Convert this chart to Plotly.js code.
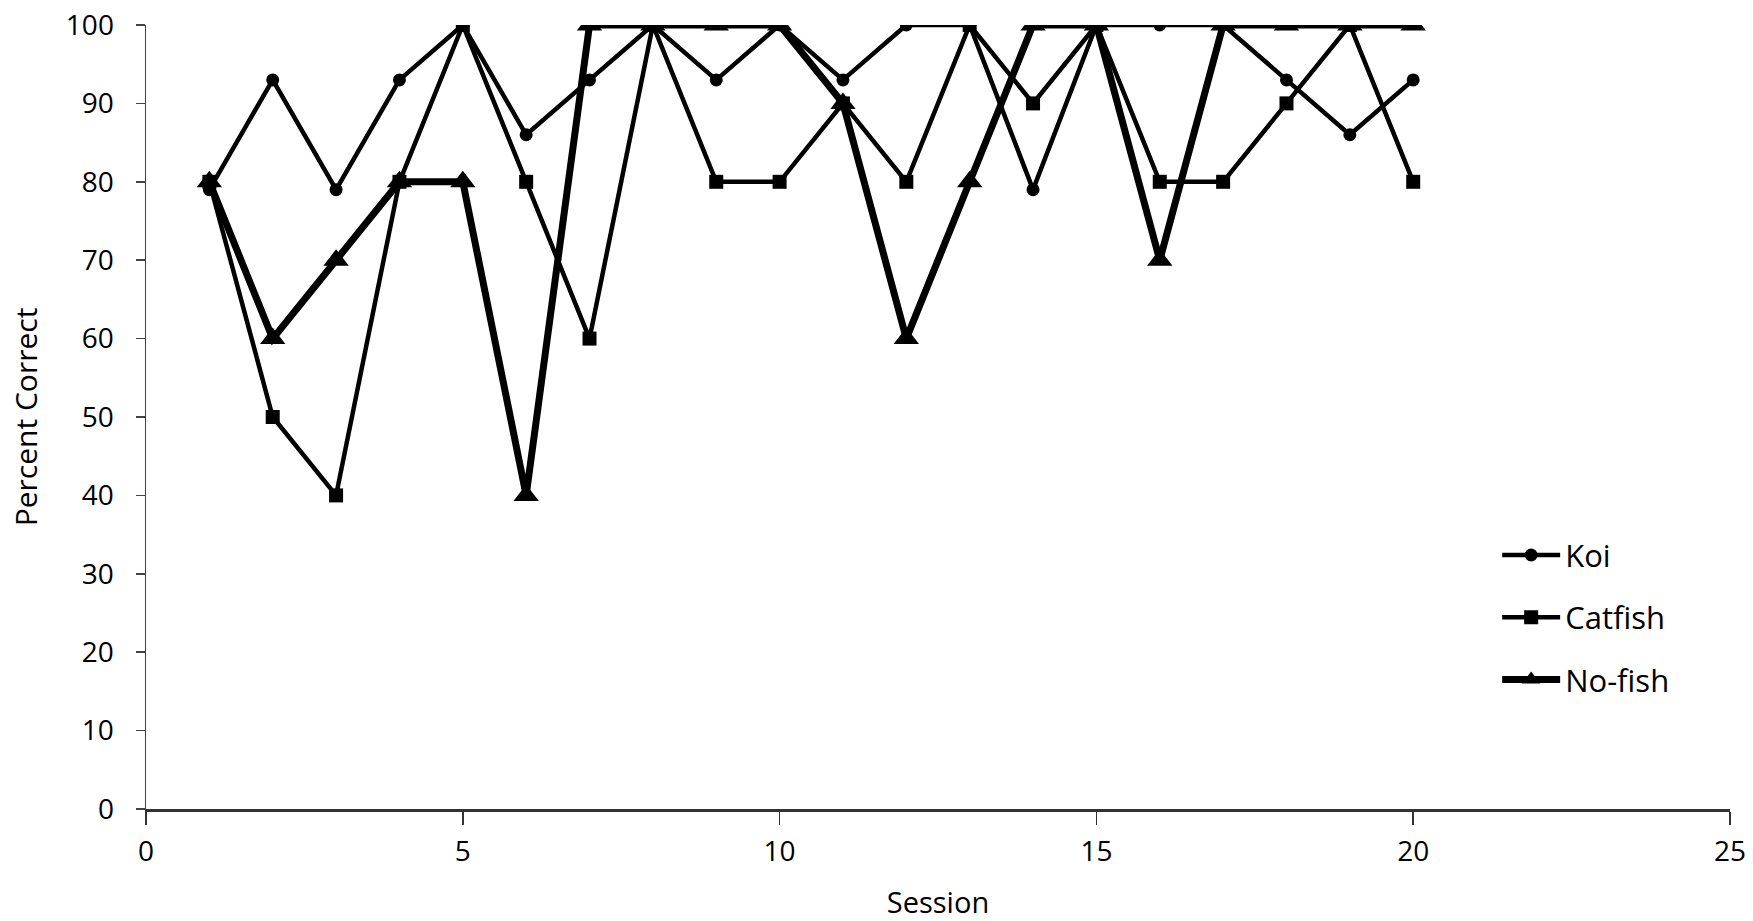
<!DOCTYPE html>
<html>
<head>
<meta charset="utf-8">
<script src="https://cdn.plot.ly/plotly-3.0.1.min.js"></script>
<style>html,body{margin:0;padding:0;background:#fff;}#chart{width:1753px;height:921px;}</style>
</head>
<body>
<div id="chart"></div>
<script>
const sessions = [1,2,3,4,5,6,7,8,9,10,11,12,13,14,15,16,17,18,19,20];
const koi     = [79,93,79,93,100,86,93,100,93,100,93,100,100,79,100,100,100,93,86,93];
const catfish = [80,50,40,80,100,80,60,100,80,80,90,80,100,90,100,80,80,90,100,80];
const noFish  = [80,60,70,80,80,40,100,100,100,100,90,60,80,100,100,70,100,100,100,100];
const seriesNames = ["Koi","Catfish","No-fish"];
const xTicks = [0,5,10,15,20,25];
const yTicks = [0,10,20,30,40,50,60,70,80,90,100];

const FONT = "'Open Sans', 'Noto Sans', sans-serif";

const traces = [
  {x: sessions, y: koi, name: seriesNames[0], type: 'scatter', mode: 'lines+markers',
   legendgroup: 'a',
   line: {color: '#000', width: 4.5}, marker: {symbol: 'circle', size: 13, color: '#000'}},
  {x: sessions, y: catfish, name: seriesNames[1], type: 'scatter', mode: 'lines+markers',
   legendgroup: 'b',
   line: {color: '#000', width: 4.5}, marker: {symbol: 'square', size: 14, color: '#000'}},
  {x: sessions, y: noFish, name: seriesNames[2], type: 'scatter', mode: 'lines+markers',
   legendgroup: 'c',
   line: {color: '#000', width: 7}, marker: {symbol: 'triangle-up', size: 22, color: '#000'}}
];

const layout = {
  width: 1753, height: 921,
  margin: {l: 146, r: 23, t: 25, b: 112},
  paper_bgcolor: '#fff', plot_bgcolor: '#fff',
  font: {family: FONT, size: 28, color: '#000'},
  showlegend: true,
  legend: {x: 0.853, y: 0.358, xanchor: 'left', yanchor: 'top',
           font: {family: FONT, size: 31, color: '#000'},
           itemwidth: 58,
           tracegroupgap: 19, bgcolor: 'rgba(0,0,0,0)'},
  xaxis: {range: [0, 25], tickvals: xTicks, ticktext: xTicks.map(String),
          showgrid: false, zeroline: false, showline: true, linecolor: '#333', linewidth: 2.5,
          ticks: 'outside', ticklen: 13, tickwidth: 1.5, tickcolor: '#333',
          ticklabelstandoff: 3,
          tickfont: {family: FONT, size: 28, color: '#000'},
          title: {text: 'Session', font: {family: FONT, size: 29, color: '#000'}, standoff: 26}},
  yaxis: {range: [0, 100], tickvals: yTicks, ticktext: yTicks.map(String),
          showgrid: false, zeroline: false, showline: true, linecolor: '#444', linewidth: 1.5,
          ticks: 'outside', ticklen: 9, tickwidth: 1.5, tickcolor: '#444',
          ticklabelstandoff: 16,
          tickfont: {family: FONT, size: 28, color: '#000'},
          title: {text: 'Percent Correct', font: {family: FONT, size: 30, color: '#000'}, standoff: 19}}
};

Plotly.newPlot('chart', traces, layout, {displayModeBar: false, staticPlot: true});
</script>
</body>
</html>
